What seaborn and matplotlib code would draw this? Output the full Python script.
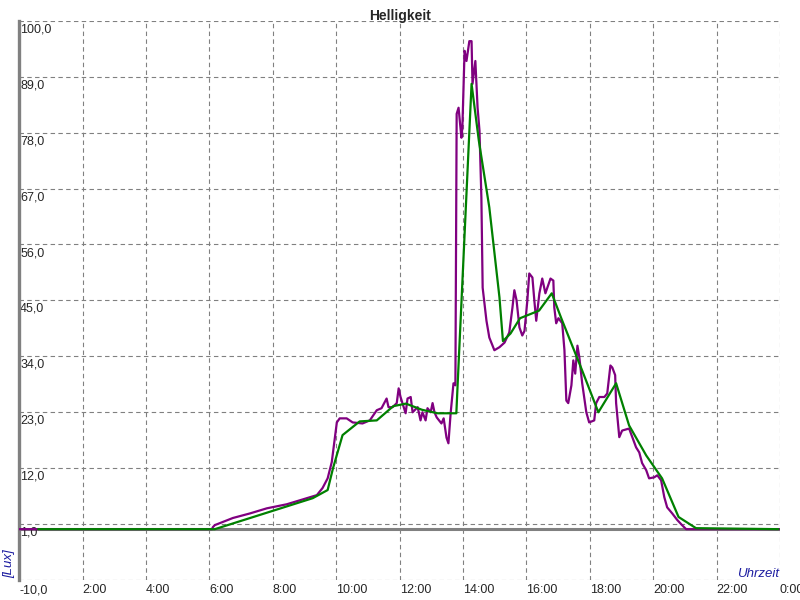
import matplotlib
matplotlib.use("Agg")
import matplotlib.pyplot as plt
import seaborn as sns
import pandas as pd

# raw brightness (purple), hours of the day -> Lux
raw_hours = [0.0, 6.08, 6.11, 6.17, 6.74, 7.28, 7.81, 8.44, 9.07, 9.39, 9.57, 9.73, 9.86, 9.95,
             10.02, 10.11, 10.33, 10.52, 10.83, 11.06, 11.28, 11.43, 11.59, 11.65, 11.78, 11.91,
             11.97, 12.03, 12.09, 12.19, 12.25, 12.35, 12.41, 12.57, 12.66, 12.72, 12.82, 12.88,
             12.98, 13.04, 13.10, 13.17, 13.32, 13.39, 13.48, 13.54, 13.61, 13.67, 13.70, 13.76,
             13.80, 13.86, 13.95, 13.98, 14.05, 14.11, 14.20, 14.27, 14.30, 14.39, 14.46, 14.52,
             14.58, 14.62, 14.74, 14.83, 14.99, 15.15, 15.31, 15.46, 15.56, 15.62, 15.69, 15.78,
             15.87, 15.94, 16.03, 16.09, 16.19, 16.25, 16.31, 16.41, 16.50, 16.60, 16.66, 16.76,
             16.85, 16.88, 16.94, 17.01, 17.13, 17.20, 17.26, 17.32, 17.42, 17.48, 17.54, 17.61,
             17.67, 17.76, 17.89, 17.98, 18.14, 18.20, 18.30, 18.46, 18.55, 18.65, 18.71, 18.80,
             18.83, 18.93, 19.02, 19.24, 19.34, 19.46, 19.56, 19.65, 19.78, 19.87, 20.03, 20.13,
             20.25, 20.35, 20.44, 20.60, 20.76, 20.91, 21.04, 24.0]
raw_lux = [0.0, 0.0, 0.4, 0.8, 2.2, 3.1, 4.1, 4.9, 6.1, 6.7, 8.1, 10.0, 13.2, 17.5,
           21.0, 21.8, 21.8, 21.0, 20.8, 21.4, 23.4, 23.8, 25.7, 24.0, 24.0, 24.8,
           27.7, 26.0, 24.8, 22.8, 25.7, 26.0, 23.0, 24.0, 21.4, 23.0, 21.4, 23.8,
           23.0, 24.8, 23.0, 22.0, 20.8, 21.8, 18.0, 16.9, 22.8, 26.7, 28.7, 28.3,
           81.7, 82.9, 77.0, 79.0, 94.1, 92.1, 96.0, 96.0, 87.6, 92.1, 82.9, 78.4,
           65.2, 47.5, 41.0, 37.7, 35.2, 35.8, 36.7, 38.7, 43.6, 47.0, 45.0, 39.7,
           38.1, 39.0, 45.0, 50.3, 49.5, 45.0, 41.0, 46.4, 49.3, 46.4, 47.5, 49.3,
           48.9, 43.6, 40.5, 41.5, 40.5, 35.2, 25.3, 24.8, 28.3, 33.2, 30.6, 36.1,
           33.8, 28.7, 23.0, 21.0, 21.4, 24.8, 26.0, 26.0, 26.7, 32.2, 31.8, 30.3,
           24.8, 18.1, 19.4, 19.8, 18.1, 16.1, 15.1, 13.0, 11.6, 10.0, 10.2, 10.6,
           9.6, 6.3, 4.3, 3.1, 1.8, 0.8, 0.0, 0.0]

# smoothed brightness (green)
avg_hours = [0.6, 6.17, 9.26, 9.73, 9.9, 10.2, 10.74, 11.28, 11.8, 12.2, 12.7, 13.2, 13.79,
             13.82, 14.27, 14.5, 14.83, 15.15, 15.26, 15.5, 15.8, 16.4, 16.8, 17.1, 17.76,
             18.27, 18.83, 19.24, 19.78, 20.28, 20.8, 21.35, 23.95]
avg_lux = [0.0, 0.0, 6.1, 7.7, 12.0, 18.5, 21.2, 21.4, 24.2, 24.7, 23.5, 22.8, 22.8,
           27.0, 87.6, 76.4, 63.3, 45.6, 37.0, 38.5, 41.5, 43.0, 46.4, 41.5, 31.2,
           23.0, 28.7, 20.4, 14.5, 10.0, 2.4, 0.2, 0.0]

x_ticks = list(range(0, 25, 2))
x_labels = ["-10,0", "2:00", "4:00", "6:00", "8:00", "10:00", "12:00", "14:00",
            "16:00", "18:00", "20:00", "22:00", "0:00"]
y_ticks = [-10, 1, 12, 23, 34, 45, 56, 67, 78, 89, 100]
y_labels = ["1,0", "12,0", "23,0", "34,0", "45,0", "56,0", "67,0", "78,0", "89,0", "100,0"]

raw = pd.DataFrame({"Uhrzeit": raw_hours, "Lux": raw_lux})
avg = pd.DataFrame({"Uhrzeit": avg_hours, "Lux": avg_lux})

sns.set_style("white")
plt.rcParams["font.family"] = ["Liberation Sans", "DejaVu Sans"]

fig = plt.figure(figsize=(8, 6), dpi=100)
ax = fig.add_axes([0.024, 0.0333, 0.951, 0.932])

# grid + zero line
ax.set_xticks(x_ticks)
ax.set_yticks(y_ticks)
ax.grid(True, color="#808080", linestyle=(0, (4, 3)), linewidth=0.8)
ax.axhline(0, color="#808080", linewidth=2.2, zorder=1)

sns.lineplot(data=raw, x="Uhrzeit", y="Lux", color="#800080", linewidth=1.6,
             estimator=None, sort=False, ax=ax, zorder=3)
sns.lineplot(data=avg, x="Uhrzeit", y="Lux", color="#008000", linewidth=1.6,
             estimator=None, sort=False, ax=ax, zorder=4)

ax.set_xlim(0, 24)
ax.set_ylim(-10, 100)

for s in ["top", "right", "bottom"]:
    ax.spines[s].set_visible(False)
ax.spines["left"].set_color("#808080")
ax.spines["left"].set_linewidth(2.4)

# x labels left aligned at the gridline
ax.set_xticklabels(x_labels, fontsize=9)
for lab in ax.get_xticklabels():
    lab.set_horizontalalignment("left")
ax.tick_params(axis="x", length=0, pad=3)
ax.tick_params(axis="y", length=0, labelleft=False)

# y labels sit inside the plot, just under each gridline
for yv, txt in zip(y_ticks[1:], y_labels):
    ax.text(0.03, yv - 0.5, txt, fontsize=9, ha="left", va="top", zorder=2)

ax.set_xlabel("")
ax.set_ylabel("")
ax.text(23.98, -9.4, "Uhrzeit", fontsize=9.5, style="italic", color="#1c1ca0",
        ha="right", va="baseline")
fig.text(0.012, 0.037, "[Lux]", fontsize=9.5, style="italic", color="#1c1ca0",
         rotation=90, ha="center", va="bottom")
fig.text(0.5, 0.985, "Helligkeit", fontsize=10, fontweight="bold", ha="center", va="top")

fig.savefig("out.png", dpi=100)
